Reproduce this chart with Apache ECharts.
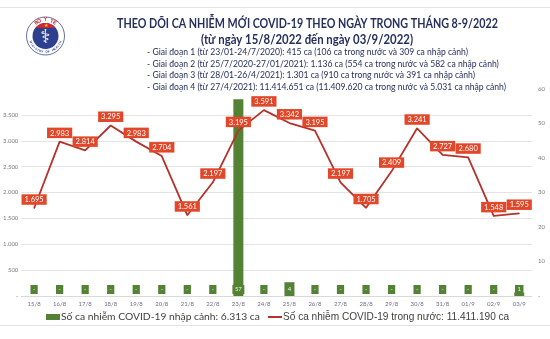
<!DOCTYPE html>
<html>
<head>
<meta charset="utf-8">
<script src="https://cdn.jsdelivr.net/npm/echarts@6/dist/echarts.min.js"></script>
<style>
  html, body { margin: 0; padding: 0; background: #ffffff; }
  #chart { width: 550px; height: 339px; }
</style>
</head>
<body>
<div id="chart"></div>
<script>
// Daily COVID-19 cases, 15/8/2022 – 03/9/2022
const days = ['15/8', '16/8', '17/8', '18/8', '19/8', '20/8', '21/8', '22/8', '23/8', '24/8',
              '25/8', '26/8', '27/8', '28/8', '29/8', '30/8', '31/8', '01/9', '02/9', '03/9'];
const domesticCases = [1695, 2983, 2814, 3295, 2983, 2704, 1561, 2197, 3195, 3591,
                       3342, 3195, 2197, 1705, 2409, 3241, 2727, 2680, 1548, 1595];
const importedCases = [0, 0, 0, 0, 0, 0, 0, 0, 57, 0,
                       4, 0, 0, 0, 0, 0, 0, 0, 0, 1];

const leftTicks = { min: 0, max: 4000, interval: 500 };
const rightTicks = { min: 0, max: 60, interval: 10 };

const titleText = 'THEO DÕI CA NHIỄM MỚI COVID-19 THEO NGÀY TRONG THÁNG 8-9/2022';
const subtitleText = '(từ ngày 15/8/2022 đến ngày 03/9/2022)';
const phaseNotes = [
  '- Giai đoạn 1 (từ 23/01-24/7/2020): 415 ca (106 ca trong nước và 309 ca nhập cảnh)',
  '- Giai đoạn 2 (từ 25/7/2020-27/01/2021): 1.136 ca (554 ca trong nước và 582 ca nhập cảnh)',
  '- Giai đoạn 3 (từ 28/01-26/4/2021): 1.301 ca (910 ca trong nước và 391 ca nhập cảnh)',
  '- Giai đoạn 4 (từ 27/4/2021): 11.414.651 ca (11.409.620 ca trong nước và 5.031 ca nhập cảnh)'
];
const importedName = 'Số ca nhiễm COVID-19 nhập cảnh: 6.313 ca';
const domesticName = 'Số ca nhiễm COVID-19 trong nước: 11.411.190 ca';

const NAVY = '#25305f';
const LINE_RED = '#b5322a';
const LABEL_RED = '#e2472a';
const GREEN = '#548235';
const CAL = 'Lato, "Open Sans", sans-serif';
const ARIAL = '"Liberation Sans", Arial, sans-serif';

function dotted(v) {
  return String(v).replace(/\B(?=(\d{3})+(?!\d))/g, '.');
}

// horizontal squeeze so a text line spans a given width
const measureCtx = document.createElement('canvas').getContext('2d');
function fitScale(text, font, width) {
  measureCtx.font = font;
  return Math.min(1, width / measureCtx.measureText(text).width);
}

// Ministry emblem: ring, blue disc, red cap with star, staff symbol, ring lettering
function emblem(cx, cy) {
  const els = [];
  els.push({ type: 'circle', shape: { cx, cy, r: 19 }, style: { fill: '#ffffff', stroke: '#3a4a8a', lineWidth: 0.8 } });
  els.push({ type: 'circle', shape: { cx, cy, r: 13 }, style: { fill: '#2d3f8f' } });
  const cap = [];
  const a0 = -Math.PI * 0.78, a1 = -Math.PI * 0.22;
  for (let i = 0; i <= 16; i++) {
    const a = a0 + (a1 - a0) * i / 16;
    cap.push([cx + 13 * Math.cos(a), cy + 13 * Math.sin(a)]);
  }
  els.push({ type: 'polygon', shape: { points: cap }, style: { fill: '#d8262c' } });
  els.push({ type: 'text', style: { text: '★', x: cx, y: cy - 10, fill: '#f5d324', fontSize: 5, align: 'center', verticalAlign: 'middle' } });
  els.push({ type: 'text', style: { text: '⚕', x: cx, y: cy + 2, fill: '#ffffff', fontSize: 19, fontFamily: 'DejaVu Sans', align: 'center', verticalAlign: 'middle' } });
  const top = 'BỘ Y TẾ';
  for (let i = 0; i < top.length; i++) {
    const a = -Math.PI / 2 + (i - (top.length - 1) / 2) * 0.2;
    els.push({ type: 'text', x: cx + 16 * Math.cos(a), y: cy + 16 * Math.sin(a), rotation: -(a + Math.PI / 2),
      style: { text: top[i], fill: '#c8242a', fontSize: 5, fontWeight: 'bold', align: 'center', verticalAlign: 'middle' } });
  }
  const bottom = 'MINISTRY OF HEALTH';
  for (let i = 0; i < bottom.length; i++) {
    const a = Math.PI / 2 - (i - (bottom.length - 1) / 2) * 0.14;
    els.push({ type: 'text', x: cx + 16 * Math.cos(a), y: cy + 16 * Math.sin(a), rotation: -(a - Math.PI / 2),
      style: { text: bottom[i], fill: '#2d3f8f', fontSize: 3, fontWeight: 'bold', align: 'center', verticalAlign: 'middle' } });
  }
  return { type: 'group', children: els };
}

const titleFont = 'bold 14px ' + CAL;
const subtitleFont = 'bold 13px ' + CAL;
const noteFont = '9px ' + CAL;

const graphics = [
  { type: 'line', shape: { x1: 0, y1: 7.5, x2: 550, y2: 7.5 }, style: { stroke: '#e2e2e2', lineWidth: 1 } },
  { type: 'line', shape: { x1: 0, y1: 325.5, x2: 550, y2: 325.5 }, style: { stroke: '#e2e2e2', lineWidth: 1 } },
  emblem(45.5, 36),
  { type: 'text', x: 117, y: 23, scaleX: fitScale(titleText, titleFont, 381),
    style: { text: titleText, x: 0, y: 0, fill: NAVY, font: titleFont, align: 'left', verticalAlign: 'middle' } },
  { type: 'text', x: 201, y: 39.5, scaleX: fitScale(subtitleText, subtitleFont, 212),
    style: { text: subtitleText, x: 0, y: 0, fill: NAVY, font: subtitleFont, align: 'left', verticalAlign: 'middle' } }
];
const noteScale = fitScale(phaseNotes[3], noteFont, 359);
phaseNotes.forEach((t, i) => {
  graphics.push({ type: 'text', x: 147, y: 52 + i * 11.6, scaleX: noteScale,
    style: { text: t, x: 0, y: 0, fill: NAVY, font: noteFont, align: 'left', verticalAlign: 'middle' } });
});

const legendBase = { top: 312, itemWidth: 14, itemHeight: 6, padding: 0, textStyle: { padding: [0, 0, 0, -4] } };

const chart = echarts.init(document.getElementById('chart'), null, { renderer: 'canvas' });
chart.setOption({
  backgroundColor: '#ffffff',
  animation: false,
  graphic: graphics,
  grid: { left: 20, right: 18, top: 89, bottom: 43 },
  legend: [
    Object.assign({}, legendBase, {
      left: 46,
      data: [{ name: importedName, icon: 'rect', textStyle: { fontFamily: CAL, fontSize: 10.3, color: '#404040' } }]
    }),
    Object.assign({}, legendBase, {
      left: 268,
      data: [{ name: domesticName, icon: 'path://M0,0 L14,0 L14,2 L0,2 Z', textStyle: { fontFamily: ARIAL, fontSize: 10.1, color: '#404040' } }]
    })
  ],
  xAxis: {
    type: 'category',
    data: days,
    axisLine: { lineStyle: { color: '#d9d9d9' } },
    axisTick: { show: false },
    axisLabel: { fontSize: 6, color: '#6e6e8e', margin: 5, fontFamily: CAL }
  },
  yAxis: [
    {
      type: 'value', min: leftTicks.min, max: leftTicks.max, interval: leftTicks.interval,
      axisLine: { show: false }, axisTick: { show: false },
      splitLine: { lineStyle: { color: '#e3e3e3' }, showMaxLine: false },
      axisLabel: { fontSize: 6, color: '#7a7a7a', margin: 3, showMaxLabel: false, fontFamily: CAL,
        formatter: v => v === 0 ? '-' : dotted(v) }
    },
    {
      type: 'value', min: rightTicks.min, max: rightTicks.max, interval: rightTicks.interval,
      axisLine: { show: false }, axisTick: { show: false }, splitLine: { show: false },
      axisLabel: { fontSize: 6, color: '#7a7a7a', margin: 6, fontFamily: CAL,
        formatter: v => v === 0 ? '-' : String(v) }
    }
  ],
  series: [
    {
      name: importedName,
      type: 'bar',
      yAxisIndex: 1,
      data: importedCases,
      barWidth: 10,
      itemStyle: { color: GREEN },
      z: 2,
      label: {
        show: true, position: 'insideBottom', distance: 2,
        formatter: p => p.value === 0 ? '-' : String(p.value),
        color: '#eef5e8', fontSize: 6, fontFamily: CAL,
        backgroundColor: GREEN, padding: [1.5, 2.5, 1.5, 2.5]
      }
    },
    {
      name: domesticName,
      type: 'line',
      yAxisIndex: 0,
      data: domesticCases,
      symbol: 'circle',
      symbolSize: 1,
      showSymbol: true,
      lineStyle: { color: LINE_RED, width: 1.8 },
      itemStyle: { color: LINE_RED },
      z: 5,
      label: {
        show: true, position: 'top', distance: 3,
        formatter: p => dotted(p.value),
        color: '#ffffff', fontSize: 7.5, fontFamily: CAL,
        backgroundColor: LABEL_RED, padding: [1.5, 3, 1, 3]
      }
    }
  ]
});
</script>
</body>
</html>
